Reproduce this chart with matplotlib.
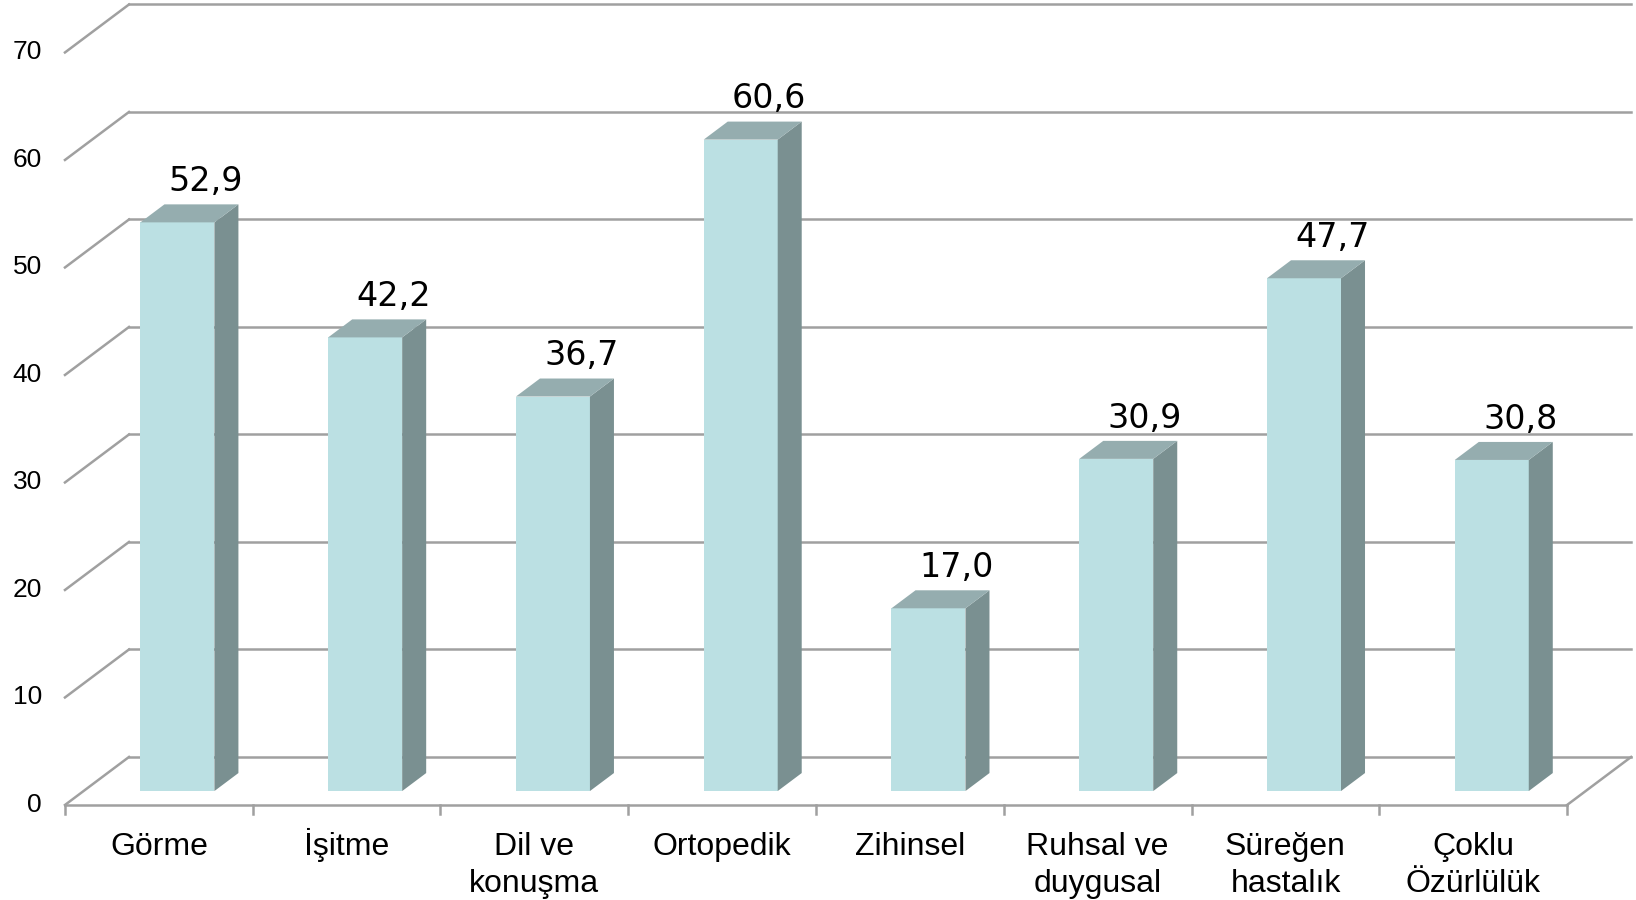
import matplotlib.pyplot as plt
from matplotlib.patches import Polygon

plt.rcParams['font.family'] = ['Liberation Sans', 'DejaVu Sans']

categories = ['Görme', 'İşitme', 'Dil ve\nkonuşma', 'Ortopedik', 'Zihinsel',
              'Ruhsal ve\nduygusal', 'Süreğen\nhastalık', 'Çoklu\nÖzürlülük']
values = [52.9, 42.2, 36.7, 60.6, 17.0, 30.9, 47.7, 30.8]
labels = ['52,9', '42,2', '36,7', '60,6', '17,0', '30,9', '47,7', '30,8']
yticks = [0, 10, 20, 30, 40, 50, 60, 70]

# perspective offset of the back wall (x in category units, y in value units)
dx, dy = 0.341, 4.465
f0, f1 = 0.29, 0.665   # bar front / back depth fraction
hw = 0.197             # half bar width

grid_c = '#a0a0a0'
front_c, side_c, top_c = '#BBE0E3', '#7A9091', '#95ADAF'

fig = plt.figure(figsize=(16.36, 9), dpi=100)
ax = fig.add_axes([0, 0, 1, 1])
ax.set_xlim(-0.346, 8.367)
ax.set_ylim(-8.84, 74.88)
ax.axis('off')

n = len(categories)

# walls: left diagonals + back gridlines
for v in yticks:
    ax.plot([0, dx], [v, v + dy], color=grid_c, lw=1.8, zorder=1)
    ax.plot([dx, n + dx], [v + dy, v + dy], color=grid_c, lw=1.8, zorder=1)
    ax.text(-0.122, v, str(v), ha='right', va='center', fontsize=19)

# floor front edge, right edge, ticks
ax.plot([0, n], [0, 0], color=grid_c, lw=1.8, zorder=1)
ax.plot([n, n + dx], [0, dy], color=grid_c, lw=1.8, zorder=1)
for i in range(n + 1):
    ax.plot([i, i], [0, -0.8], color=grid_c, lw=1.8, zorder=1)

line_gap = 3.45  # between category label lines, value units
for i, (v, lab, cat) in enumerate(zip(values, labels, categories)):
    c = i + 0.5
    xl, xr = c - hw + f0 * dx, c + hw + f0 * dx
    yb, yt = f0 * dy, v + f0 * dy
    ddx, ddy = (f1 - f0) * dx, (f1 - f0) * dy
    ax.add_patch(Polygon([(xl, yb), (xr, yb), (xr, yt), (xl, yt)],
                         closed=True, fc=front_c, ec='none', zorder=3))
    ax.add_patch(Polygon([(xr, yb), (xr + ddx, yb + ddy), (xr + ddx, yt + ddy), (xr, yt)],
                         closed=True, fc=side_c, ec='none', zorder=3))
    ax.add_patch(Polygon([(xl, yt), (xr, yt), (xr + ddx, yt + ddy), (xl + ddx, yt + ddy)],
                         closed=True, fc=top_c, ec='none', zorder=3))
    ax.text(c + 0.25, v + 4.2, lab, ha='center', va='baseline', fontsize=24,
            family=['DejaVu Sans'], zorder=4)
    for k, part in enumerate(cat.split('\n')):
        ax.text(c, -4.65 - k * line_gap, part, ha='center', va='baseline', fontsize=23)

fig.savefig('out.png', dpi=100)
